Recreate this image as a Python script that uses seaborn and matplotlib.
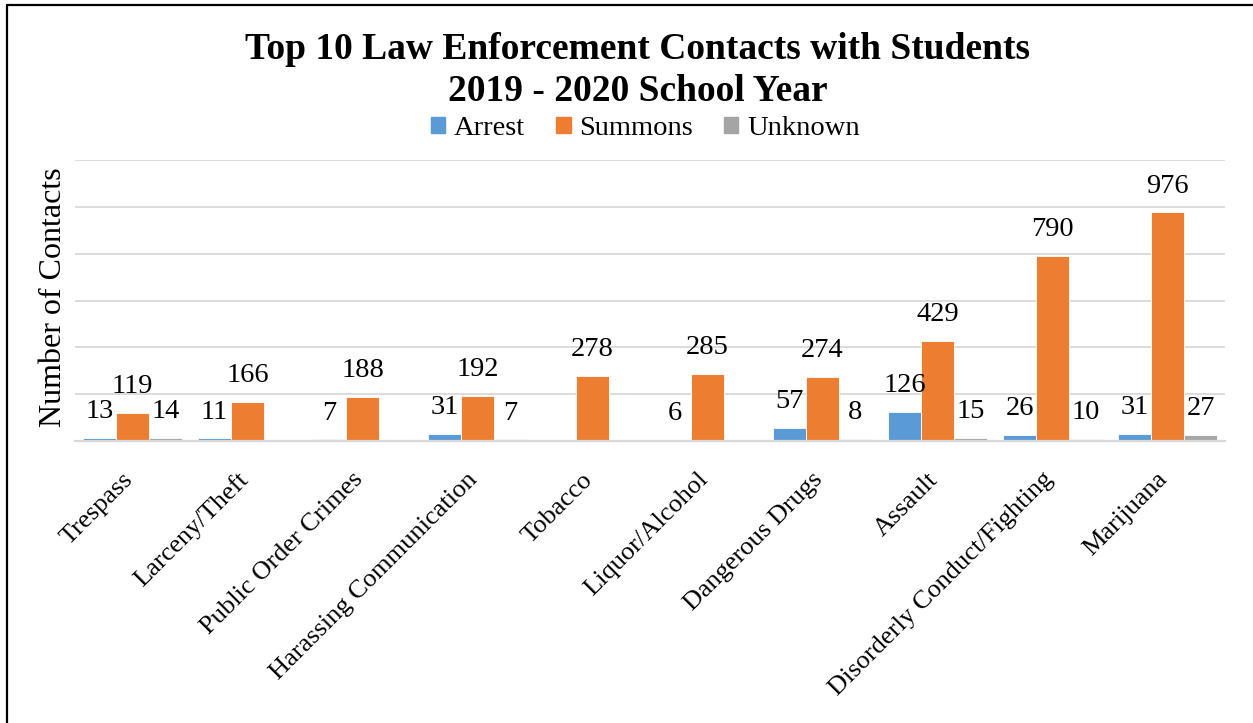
import numpy as np
import pandas as pd
import matplotlib
matplotlib.use("Agg")
import matplotlib.pyplot as plt
from matplotlib.lines import Line2D
from matplotlib.transforms import ScaledTranslation
import seaborn as sns

categories = ["Trespass", "Larceny/Theft", "Public Order Crimes", "Harassing Communication",
              "Tobacco", "Liquor/Alcohol", "Dangerous Drugs", "Assault",
              "Disorderly Conduct/Fighting", "Marijuana"]
arrest = [13, 11, 7, 31, np.nan, 6, 57, 126, 26, 31]
summons = [119, 166, 188, 192, 278, 285, 274, 429, 790, 976]
unknown = [14, np.nan, np.nan, 7, np.nan, np.nan, 8, 15, 10, 27]
series_names = ["Arrest", "Summons", "Unknown"]
colors = ["#5B9BD5", "#ED7D31", "#A5A5A5"]

df = pd.DataFrame({"Category": categories, "Arrest": arrest,
                   "Summons": summons, "Unknown": unknown})
long = df.melt(id_vars="Category", var_name="Type", value_name="Count")

sns.set_theme(style="white")
plt.rcParams["font.family"] = ["Liberation Serif", "DejaVu Serif"]
plt.rcParams["text.color"] = "black"

fig = plt.figure(figsize=(12.53, 7.23), dpi=100)
ax = fig.add_axes([0.0599, 0.390, 0.9178, 0.3887])

sns.barplot(data=long, x="Category", y="Count", hue="Type", order=categories,
            hue_order=series_names, palette=colors, width=0.86, saturation=1,
            edgecolor="white", linewidth=0.6, errorbar=None, legend=False, ax=ax)

ax.set_ylim(0, 1200)
ax.set_yticks(np.arange(0, 1201, 200))
ax.set_yticklabels([])
ax.yaxis.grid(True, color="#D9D9D9", linewidth=1.3)
ax.set_axisbelow(True)
for s in ["left", "right", "top"]:
    ax.spines[s].set_visible(False)
ax.spines["bottom"].set_color("#D9D9D9")
ax.spines["bottom"].set_linewidth(1.6)
ax.tick_params(axis="both", length=0)
ax.set_xlabel("")
ax.set_ylabel("")

# value labels above each bar
for container in ax.containers:
    for bar in container:
        h = bar.get_height()
        if np.isfinite(h) and h > 0:
            ax.annotate(f"{int(round(h))}", (bar.get_x() + bar.get_width() / 2, h),
                        xytext=(0, 10), textcoords="offset points",
                        ha="center", va="bottom", fontsize=20.5, color="black")

ax.set_xticks(range(len(categories)))
ax.set_xticklabels(categories, rotation=45, ha="right", rotation_mode="anchor",
                   fontsize=19, color="black")
ax.tick_params(axis="x", pad=14)
shift = ScaledTranslation(-0.11, -0.08, fig.dpi_scale_trans)
for lbl in ax.get_xticklabels():
    lbl.set_transform(lbl.get_transform() + shift)

# title, legend, axis title
fig.text(0.509, 0.932, "Top 10 Law Enforcement Contacts with Students",
         ha="center", va="center", fontsize=27, fontweight="bold", color="black")
fig.text(0.509, 0.874, "2019 - 2020 School Year",
         ha="center", va="center", fontsize=27, fontweight="bold", color="black")
fig.text(0.043, 0.589, "Number of Contacts", rotation=90,
         ha="center", va="center", fontsize=23, color="black")

handles = [plt.Rectangle((0, 0), 1, 1, color=c) for c in colors]
fig.legend(handles, series_names, loc="center", bbox_to_anchor=(0.515, 0.822),
           ncol=3, frameon=False, fontsize=20.5, handlelength=0.5, handleheight=0.5,
           handletextpad=0.3, columnspacing=1.1)

# partial black frame (top and left edges)
fig.add_artist(Line2D([0.0052, 1.0], [0.9924, 0.9924], color="black", linewidth=1.6,
                      transform=fig.transFigure))
fig.add_artist(Line2D([0.0052, 0.0052], [0.0, 0.9924], color="black", linewidth=1.6,
                      transform=fig.transFigure))

fig.savefig("out.png", dpi=100, facecolor="white")
